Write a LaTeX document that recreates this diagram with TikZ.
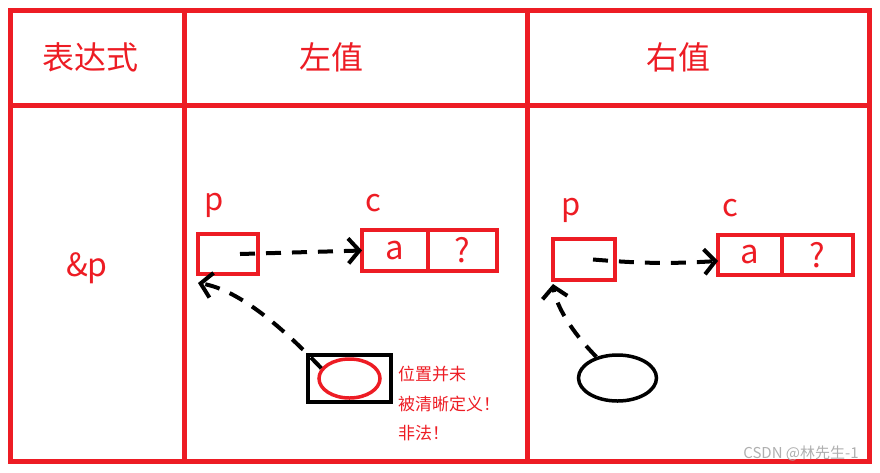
\documentclass[tikz,border=0pt]{standalone}
\usepackage{fontspec}
\setmainfont{Noto Sans CJK SC}
\usetikzlibrary{arrows.meta,positioning,shapes.geometric}
\definecolor{paintred}{RGB}{237,28,36}
\definecolor{wmgray}{RGB}{175,175,175}
\begin{document}
\begin{tikzpicture}[x=1pt,y=-1pt,
    grid/.style={draw=paintred,line width=5pt},
    head/.style={text=paintred,font=\fontsize{32}{38}\selectfont,inner sep=0pt},
    lbl/.style={text=paintred,font=\fontsize{31}{36}\selectfont,inner sep=0pt},
    cellbox/.style={draw=paintred,line width=4pt,outer sep=0pt,inner sep=0pt,minimum height=41pt,text=paintred,font=\fontsize{33}{38}\selectfont},
    blob/.style={ellipse,draw,line width=3.5pt,inner sep=0pt},
    ptr/.style={line width=4pt,dash pattern=on 15pt off 11pt,-{Straight Barb[length=11pt,width=25pt]}},
    note/.style={text=paintred,font=\fontsize{17}{29.5}\selectfont,align=left,inner sep=0pt}]

    \useasboundingbox (0,0) rectangle (880,472);

    % table
    \draw[grid] (10.5,10) rectangle (869,461);
    \draw[grid] (10.5,105) -- (869,105);
    \draw[grid] (184,10) -- (184,461);
    \draw[grid] (527,10) -- (527,461);

    \node at (90,57) [head] (expr) {表达式};
    \node at (331,57) [head] (lval) {左值};
    \node at (678,57) [head] (rval) {右值};
    \node at (87,268) [head] (addr) {\&p};

    % left value
    \node at (214,205) [lbl] (lpname) {p};
    \node at (373,203) [lbl] (lcname) {c};
    \node at (228,254) [cellbox,minimum width=60pt,minimum height=40pt] (lp) {};
    \node at (395,250.5) [cellbox,minimum width=66pt] (la) {a};
    \node [cellbox,minimum width=69pt,right=0pt of la] (lq) {?};
    \node at (349.5,378.5) [draw,line width=4pt,minimum width=83pt,minimum height=47pt,inner sep=0pt] (lbox) {};
    \node at (349.5,378.5) [blob,draw=paintred,minimum width=61pt,minimum height=39pt] (lerr) {};
    \node at (398,366) [note,anchor=north west] (lnote) {位置并未\\被清晰定义！\\非法！};

    \draw[ptr] ([xshift=12pt]lp.center) -- (la.west);
    \draw[ptr] (lerr.160) .. controls (285,330) and (240,290) .. ([yshift=-9pt]lp.south west);

    % right value
    \node at (571,210) [lbl] (rpname) {p};
    \node at (730,208) [lbl] (rcname) {c};
    \node at (584,259.5) [cellbox,minimum width=62pt] (rp) {};
    \node at (750,255) [cellbox,minimum width=64pt,minimum height=40pt] (ra) {a};
    \node [cellbox,minimum width=71pt,minimum height=40pt,right=0pt of ra] (rq) {?};
    \node at (617.5,378) [blob,minimum width=78pt,minimum height=46pt] (rerr) {};

    \draw[ptr] ([xshift=9pt]rp.center) to[bend right=4] ([yshift=-6pt]ra.west);
    \draw[ptr] (rerr.135) .. controls (570,330) and (556,305) .. ([yshift=-4pt]rp.south west);

    \node at (801,453) [text=wmgray,font=\fontsize{15}{18}\selectfont,inner sep=0pt] (wmark) {CSDN @林先生-1};

\end{tikzpicture}
\end{document}
